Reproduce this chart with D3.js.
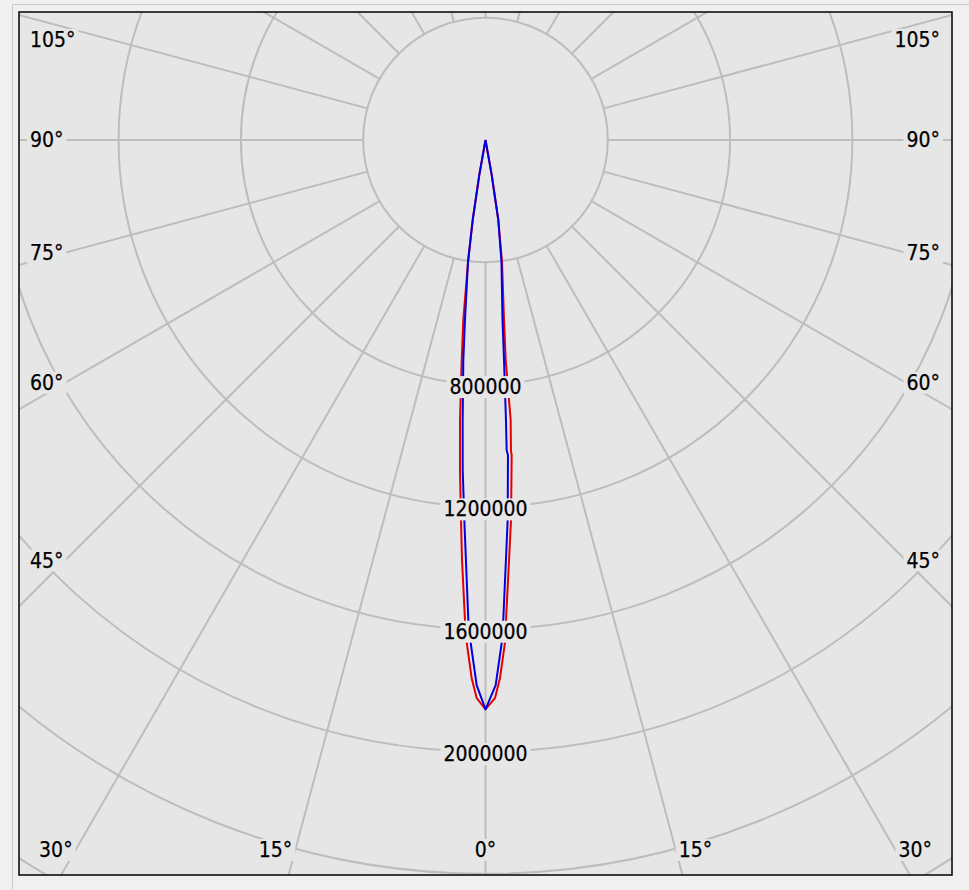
<!DOCTYPE html>
<html><head><meta charset="utf-8">
<script src="https://cdn.jsdelivr.net/npm/d3@7"></script>
<style>
html,body{margin:0;padding:0;background:#f0f0f0;}
svg{display:block;}
text{font-family:"DejaVu Sans Condensed","DejaVu Sans",sans-serif;font-stretch:condensed;font-size:21px;fill:#000;stroke:#000;stroke-width:0.25px;}
</style></head><body>
<svg id="chart" width="969" height="890"></svg>
<script>
// ---- data (gamma angle in degrees, luminous intensity in cd) ----
const radialTicks = [400000, 800000, 1200000, 1600000, 2000000, 2400000, 2800000];
const radialLabels = [800000, 1200000, 1600000, 2000000];
const gridAngles = d3.range(0, 360, 15);
const angleLabels = [0, 15, 30, 45, 60, 75, 90, 105];

// red curve, left half and right half (points listed from the peak outward)
const redLeft = [[0,1862000],[0.9,1826000],[1.47,1761000],[2.14,1645000],[2.45,1571000],[3.2,1376000],[3.69,1245000],[4.42,1083000],[5.2,920000],[6.17,724000],[7.03,593000],[8.16,403000],[9.09,265000],[10.05,116000],[12,0],[90,0]];
const redRight = [[0,1862000],[0.97,1826000],[1.54,1761000],[2.22,1645000],[2.45,1571000],[3.84,1246000],[4.75,1034000],[4.68,1020000],[5.14,919000],[5.25,723000],[5.87,592000],[7.7,403000],[9.09,265000],[10.05,116000],[12,0],[90,0]];
// blue curve
const blueLeft = [[0,1862000],[0.93,1783000],[1.69,1645000],[2.05,1571000],[3.19,1245000],[3.95,1082000],[4.66,919000],[5.76,723000],[6.5,593000],[8.16,403000],[9.09,265000],[10.05,116000],[12,0],[90,0]];
const blueRight = [[0,1862000],[1.07,1783000],[1.85,1645000],[2.12,1571000],[3.34,1245000],[4.08,1033000],[3.9,1018000],[4.18,918000],[4.81,722000],[5.4,591000],[7.47,402000],[9.09,265000],[10.05,116000],[12,0],[90,0]];

// ---- layout ----
const W = 969, H = 890;
const frame = {x0: 19, y0: 12, x1: 952, y1: 875};
const cx = 485.5, cy = 140;
const rad = d => d * Math.PI / 180;

const svg = d3.select("#chart");
const r = d3.scaleLinear().domain([0, 400000]).range([0, 122.3]);

// outer panel border
svg.append("rect").attr("x", 12.5).attr("y", 4.5).attr("width", 1000).attr("height", 1000)
  .attr("fill", "none").attr("stroke", "#cdcdcd").attr("stroke-width", 1);

// plot background
svg.append("rect").attr("x", frame.x0).attr("y", frame.y0)
  .attr("width", frame.x1 - frame.x0).attr("height", frame.y1 - frame.y0)
  .attr("fill", "#e6e6e6");

svg.append("clipPath").attr("id", "clip").append("rect")
  .attr("x", frame.x0).attr("y", frame.y0)
  .attr("width", frame.x1 - frame.x0).attr("height", frame.y1 - frame.y0);

const g = svg.append("g").attr("clip-path", "url(#clip)")
  .append("g").attr("transform", `translate(${cx},${cy})`);

// grid circles
g.selectAll("circle.grid").data(radialTicks).join("circle")
  .attr("class", "grid").attr("r", d => r(d))
  .attr("fill", "none").attr("stroke", "#bdbdbd").attr("stroke-width", 2);

// radial spokes (gamma measured from straight down)
const rInner = r(radialTicks[0]);
g.selectAll("line.spoke").data(gridAngles).join("line")
  .attr("class", "spoke")
  .attr("x1", d => rInner * Math.sin(rad(d))).attr("y1", d => rInner * Math.cos(rad(d)))
  .attr("x2", d => 1200 * Math.sin(rad(d))).attr("y2", d => 1200 * Math.cos(rad(d)))
  .attr("stroke", "#bdbdbd").attr("stroke-width", 2);

// curves
const line = d3.lineRadial()
  .angle(d => d.side > 0 ? Math.PI - rad(d.g) : Math.PI + rad(d.g))
  .radius(d => r(d.v));

function curve(left, right) {
  const pts = left.map(p => ({g: p[0], v: p[1], side: -1})).reverse()
    .concat(right.map(p => ({g: p[0], v: p[1], side: 1})));
  return line(pts);
}
g.append("path").attr("d", curve(redLeft, redRight))
  .attr("fill", "none").attr("stroke", "#e60000").attr("stroke-width", 2).attr("stroke-linejoin", "round");
g.append("path").attr("d", curve(blueLeft, blueRight))
  .attr("fill", "none").attr("stroke", "#0000e0").attr("stroke-width", 2).attr("stroke-linejoin", "round");

// labels with background masks
const labelLayer = svg.append("g");
function maskedText(x, y, txt, anchor) {
  const grp = labelLayer.append("g");
  const t = grp.append("text").attr("x", x).attr("y", y)
    .attr("text-anchor", anchor).attr("dominant-baseline", "central").text(txt);
  const b = t.node().getBBox();
  grp.insert("rect", "text").attr("x", b.x - 3).attr("y", b.y + 1)
    .attr("width", b.width + 6).attr("height", b.height - 2).attr("fill", "#e6e6e6");
}

radialLabels.forEach(v => maskedText(cx, cy + r(v) + 2.5, String(v), "middle"));

const inset = {L: 65, R: 906, T: 40, B: 850};
angleLabels.forEach(a => {
  const sides = a === 0 ? [0] : [-1, 1];
  sides.forEach(s => {
    const txt = a + "\u00B0";
    if (s === 0) { maskedText(cx, inset.B, txt, "middle"); return; }
    const sx = Math.sin(rad(a)), cy_ = Math.cos(rad(a));
    const tB = cy_ > 1e-9 ? (inset.B - cy) / cy_ : Infinity;
    const tS = s < 0 ? (cx - inset.L) / sx : (inset.R - cx) / sx;
    if (tB <= tS) {
      const x = cx + s * sx * tB + s * 3;
      maskedText(x, inset.B, txt, s < 0 ? "end" : "start");
    } else {
      let y = cy + cy_ * tS;
      y = Math.max(inset.T, Math.min(inset.B, y));
      maskedText(s < 0 ? 30 : 940, y, txt, s < 0 ? "start" : "end");
    }
  });
});

// frame
svg.append("rect").attr("x", frame.x0).attr("y", frame.y0)
  .attr("width", frame.x1 - frame.x0).attr("height", frame.y1 - frame.y0)
  .attr("fill", "none").attr("stroke", "#000").attr("stroke-width", 1.5);
</script>
</body></html>
